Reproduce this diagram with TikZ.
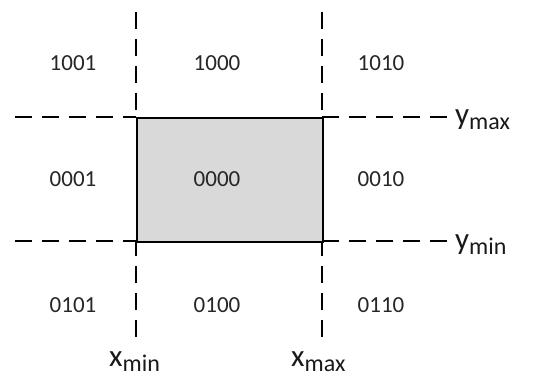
\documentclass[tikz,border=0pt]{standalone}
\usepackage{fontspec}
\setmainfont{Carlito}
\definecolor{boxgray}{HTML}{D9D9D9}
\begin{document}
\begin{tikzpicture}[x=1pt,y=-1pt,
  code/.style={font=\fontsize{23}{24}\selectfont, text=black!85, inner sep=0pt},
  bound/.style={font=\fontsize{31}{32}\selectfont, text=black!90, inner sep=0pt, anchor=base west},
  cut/.style={line width=1.8pt, dash pattern=on 17pt off 10pt},
  win/.style={line width=2pt, fill=boxgray, draw=black}]
\useasboundingbox (0,0) rectangle (533,385);
% clip lines
\coordinate (h1a) at (15,117);  \coordinate (h1b) at (447,117);
\coordinate (h2a) at (15,241);  \coordinate (h2b) at (447,241);
\coordinate (v1a) at (136,12);  \coordinate (v1b) at (136,337);
\coordinate (v2a) at (322,12);  \coordinate (v2b) at (322,337);
\draw[cut] (h1a) -- (136,117); \draw[cut] (h1b) -- (322,117);
\draw[cut] (h2a) -- (136,241); \draw[cut] (h2b) -- (322,241);
\draw[cut] (v1a) -- (136,117); \draw[cut] (v1b) -- (136,241);
\draw[cut] (v2a) -- (322,117); \draw[cut] (v2b) -- (322,241);
% window
\node[win, minimum width=186pt, minimum height=124pt, anchor=north west] (w) at (136,117) {};
% region codes
\node[code] (c1001) at (73,63) {1001};
\node[code] (c1000) at (217,63) {1000};
\node[code] (c1010) at (381,63) {1010};
\node[code] (c0001) at (73,179) {0001};
\node[code] (c0000) at (217,179) {0000};
\node[code] (c0010) at (381,179) {0010};
\node[code] (c0101) at (73,305) {0101};
\node[code] (c0100) at (217,305) {0100};
\node[code] (c0110) at (381,305) {0110};
% bound labels
\node[bound] (ymax) at (455,125) {y\raisebox{-5pt}{\fontsize{24}{25}\selectfont max}};
\node[bound] (ymin) at (455,249) {y\raisebox{-5pt}{\fontsize{24}{25}\selectfont min}};
\node[bound] (xmin) at (109,366) {x\raisebox{-5pt}{\fontsize{24}{25}\selectfont min}};
\node[bound] (xmax) at (291,366) {x\raisebox{-5pt}{\fontsize{24}{25}\selectfont max}};
\end{tikzpicture}
\end{document}
